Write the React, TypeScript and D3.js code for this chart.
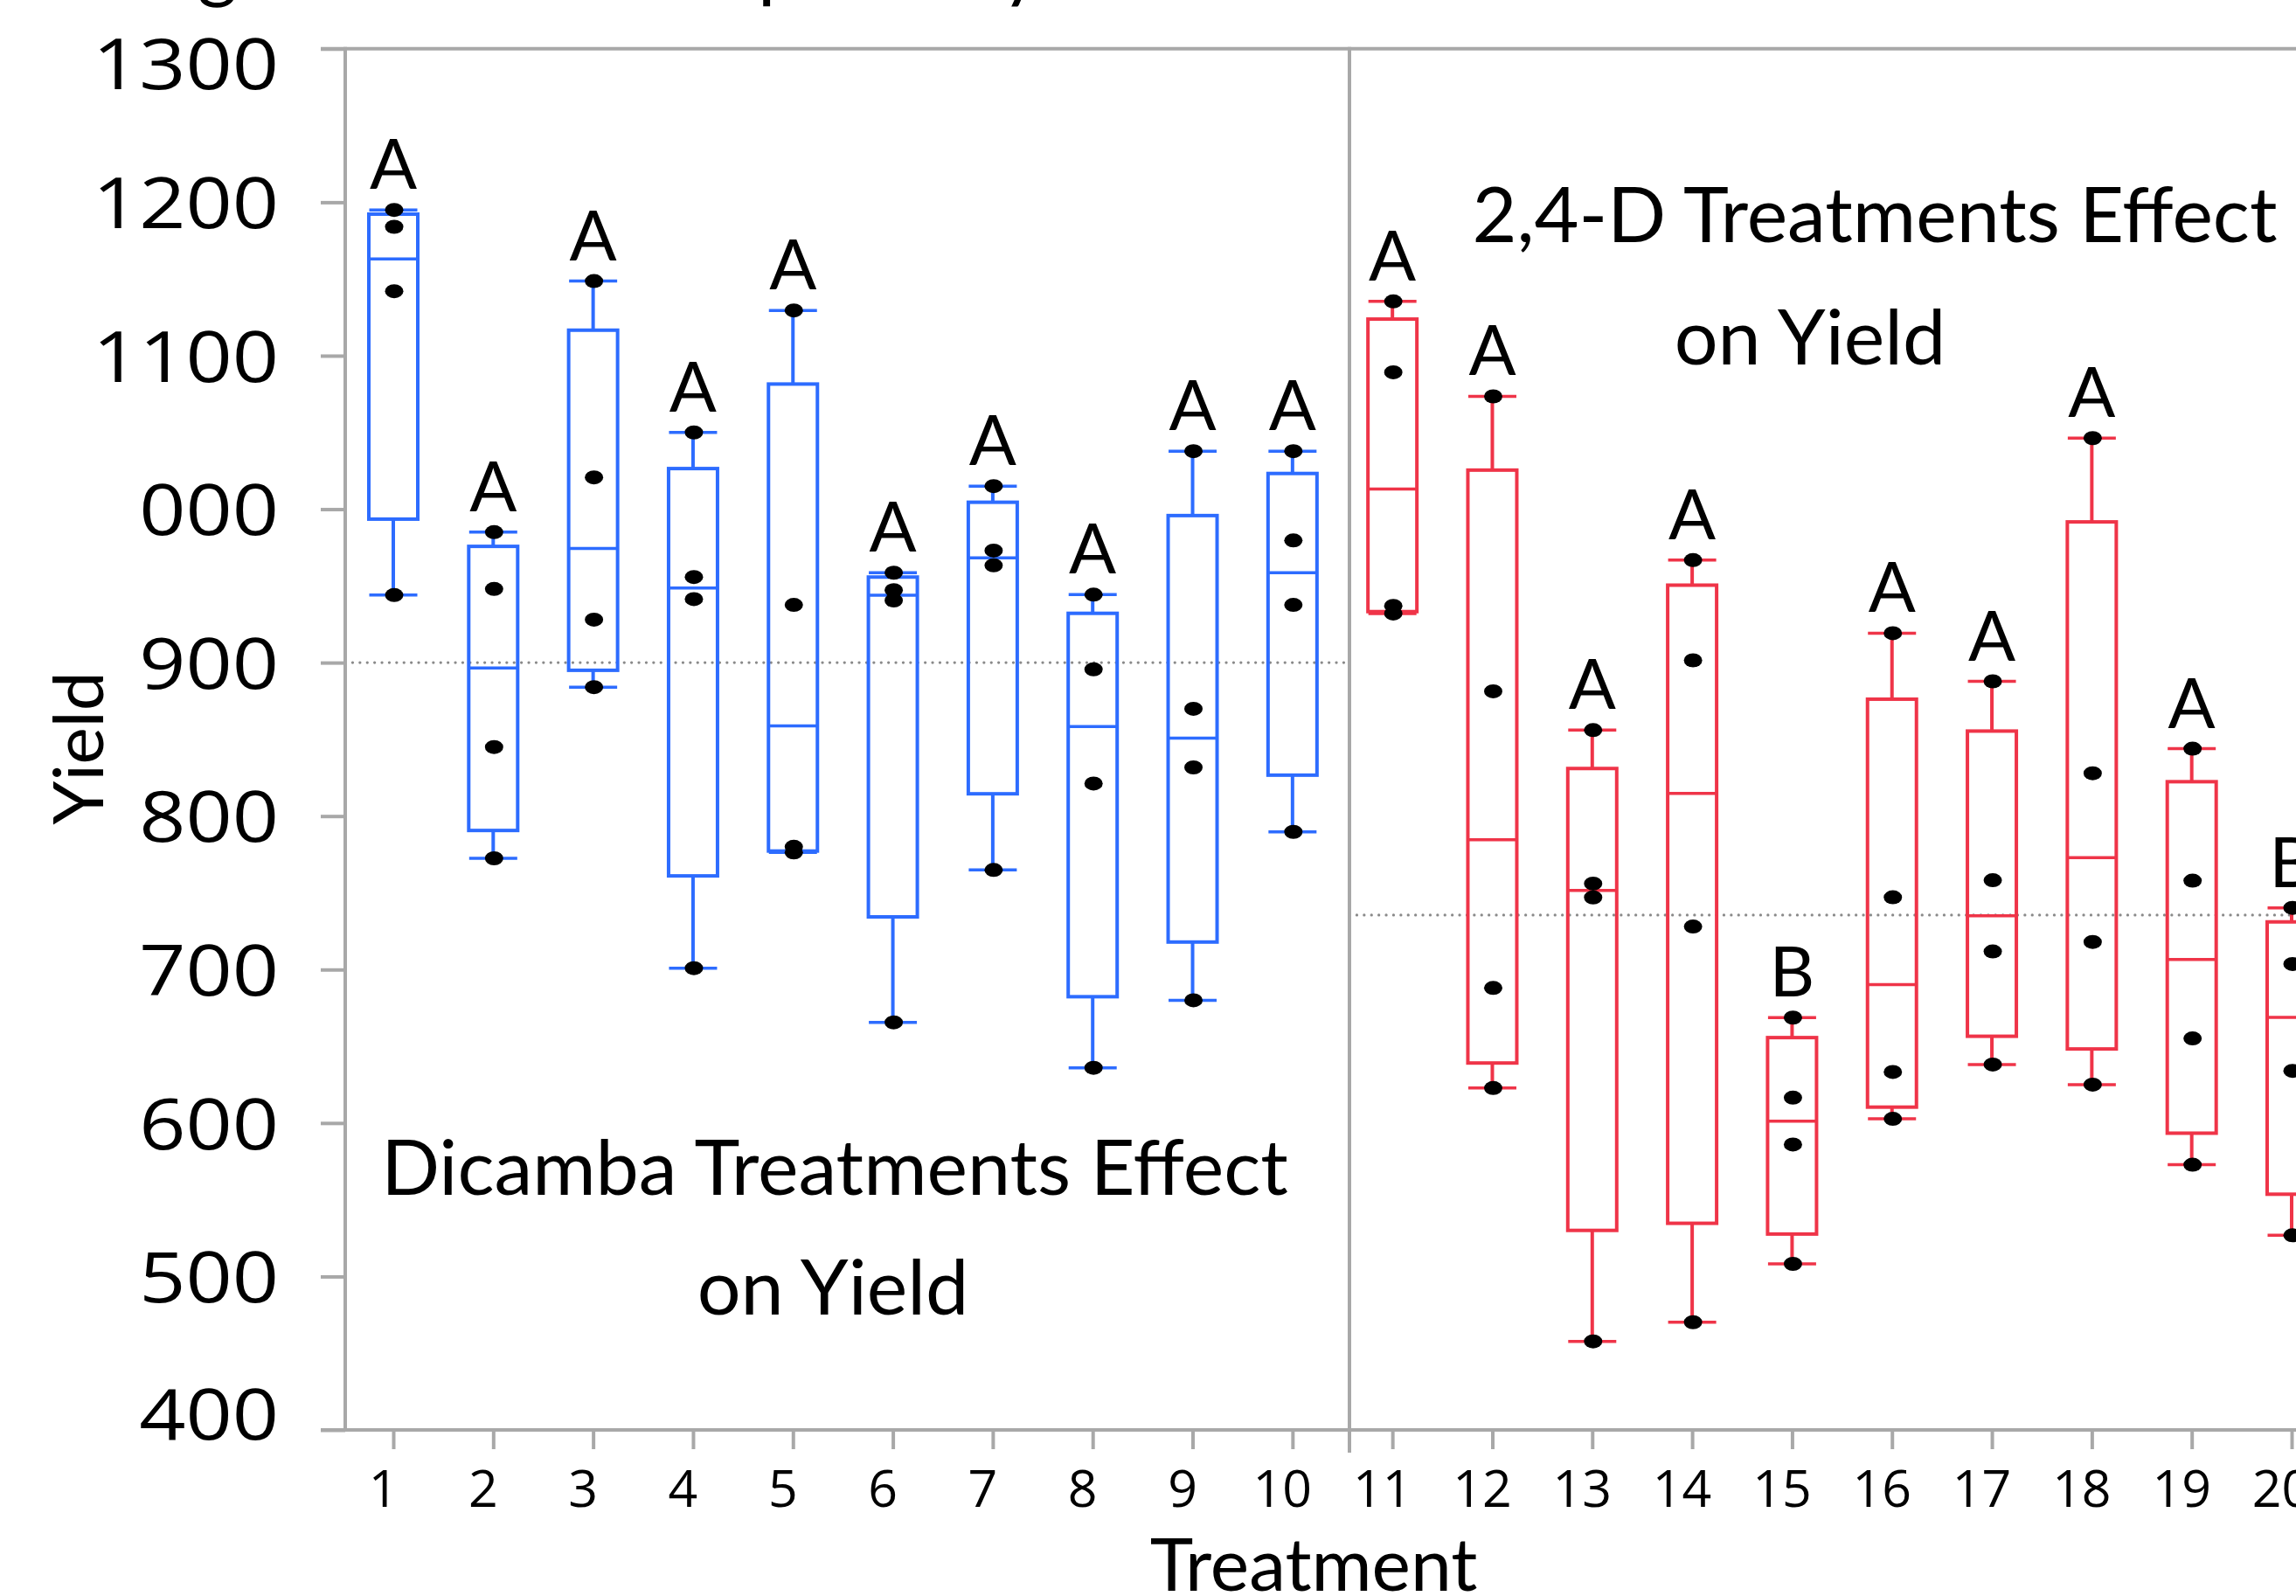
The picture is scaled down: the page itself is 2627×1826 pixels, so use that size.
import React, { useRef, useEffect } from 'react';
import * as d3 from 'd3';

// treatments 1-10 are Dicamba (blue), 11-20 are 2,4-D (red)
const treatments = [1, 2, 3, 4, 5, 6, 7, 8, 9, 10, 11, 12, 13, 14, 15, 16, 17, 18, 19, 20];
const herbicide = ['dicamba', 'dicamba', 'dicamba', 'dicamba', 'dicamba', 'dicamba', 'dicamba', 'dicamba', 'dicamba', 'dicamba',
  '24d', '24d', '24d', '24d', '24d', '24d', '24d', '24d', '24d', '24d'];

// four replicate yields per treatment
const yieldValues = [
  [1195, 1184, 1142, 944],
  [985, 948, 845, 772.5],
  [1148.6, 1020.7, 928, 884],
  [1050, 955.8, 941.4, 700.9],
  [1129.5, 937.6, 780, 776.3],
  [958.6, 947.2, 940.5, 665.6],
  [1015, 973, 963.4, 764.9],
  [944.3, 895.6, 821.2, 636],
  [1037.8, 869.9, 831.7, 680],
  [1037.8, 979.6, 937.6, 789.7],
  [1135.4, 1089.2, 937, 932],
  [1073.5, 881.3, 688, 622.8],
  [856, 756, 747, 457.7],
  [966.8, 901.5, 728, 470.2],
  [668.7, 616.5, 586, 508.2],
  [919.2, 747.1, 633.3, 602.7],
  [887.8, 758.2, 711.8, 638.1],
  [1046.3, 827.9, 718, 625],
  [843.9, 757.9, 655.1, 572.8],
  [740.2, 703.6, 634, 526.8],
];

const letters = ['A', 'A', 'A', 'A', 'A', 'A', 'A', 'A', 'A', 'A',
  'A', 'A', 'A', 'A', 'B', 'A', 'A', 'A', 'A', 'B'];

const yTicks = [400, 500, 600, 700, 800, 900, 1000, 1100, 1200, 1300];
const yTickLabels = ['400', '500', '600', '700', '800', '900', '000', '1100', '1200', '1300'];

// grand mean reference lines for each panel
const dicambaMean = 900;
const d24Mean = 735.5;

const colors = { dicamba: '#2d6cff', '24d': '#ef3448' };

// quantile in the (n+1)p style
const quant = (s, p) => {
  const h = (s.length + 1) * p;
  const lo = Math.floor(h);
  if (lo < 1) return s[0];
  if (lo >= s.length) return s[s.length - 1];
  return s[lo - 1] + (h - lo) * (s[lo] - s[lo - 1]);
};

const App = () => {
  const svgRef = useRef(null);
  const width = 2627;
  const height = 1826;

  useEffect(() => {
    document.body.style.margin = '0';
    const svg = d3.select(svgRef.current);
    svg.selectAll('*').remove();

    const axisLeftX = 395;
    const gray = '#a8a8a8';

    const yScale = d3.scaleLinear().domain([400, 1300]).range([1636, 55.8]);
    const xScale = d3.scaleLinear().domain([1, 20]).range([450, 2622]);

    // clipped title line at very top (only descenders visible)
    const frag = svg.append('g').attr('font-family', 'Lato').attr('font-size', 88).attr('fill', '#000');
    frag.append('text').attr('x', 226).attr('y', -8).text('g');
    frag.append('text').attr('x', 867).attr('y', -8).text('p');
    frag.append('text').attr('x', 1146).attr('y', -8).text('y');

    // reference lines
    svg.append('line')
      .attr('x1', axisLeftX).attr('x2', xScale(10.57))
      .attr('y1', yScale(dicambaMean)).attr('y2', yScale(dicambaMean))
      .attr('stroke', '#8a8a8a').attr('stroke-width', 3.2)
      .attr('stroke-dasharray', '0.1 8.3').attr('stroke-linecap', 'round');
    svg.append('line')
      .attr('x1', xScale(10.57)).attr('x2', width)
      .attr('y1', yScale(d24Mean)).attr('y2', yScale(d24Mean))
      .attr('stroke', '#8a8a8a').attr('stroke-width', 3.2)
      .attr('stroke-dasharray', '0.1 8.3').attr('stroke-linecap', 'round');

    // Y axis
    const yAxis = svg.append('g')
      .attr('transform', `translate(${axisLeftX},0)`)
      .call(d3.axisLeft(yScale).tickValues(yTicks).tickSize(28)
        .tickFormat((d) => yTickLabels[yTicks.indexOf(d)]));
    yAxis.select('.domain').remove();
    yAxis.selectAll('.tick line').attr('stroke', gray).attr('stroke-width', 4);
    yAxis.selectAll('.tick text')
      .attr('font-family', 'Open Sans')
      .attr('font-size', 81)
      .attr('fill', '#000')
      .attr('x', -76 / 1.15)
      .attr('y', (d) => (d === 1300 ? 17 : d === 400 ? -19 : 0))
      .attr('dy', '0.36em')
      .attr('transform', 'scale(1.15,1)');

    // X axis
    const xAxis = svg.append('g')
      .attr('transform', `translate(0,${yScale(400)})`)
      .call(d3.axisBottom(xScale).tickValues(treatments).tickSize(22).tickFormat((d) => String(d)));
    xAxis.select('.domain').remove();
    xAxis.selectAll('.tick line').attr('stroke', gray).attr('stroke-width', 4);
    xAxis.selectAll('.tick text')
      .attr('font-family', 'Open Sans')
      .attr('font-size', 59)
      .attr('fill', '#000')
      .attr('x', -12)
      .attr('y', 88)
      .attr('dy', 0);

    // frame
    const frame = svg.append('g').attr('stroke', gray).attr('stroke-width', 4);
    frame.append('line').attr('x1', axisLeftX - 28).attr('x2', width).attr('y1', yScale(1300)).attr('y2', yScale(1300));
    frame.append('line').attr('x1', axisLeftX - 28).attr('x2', width).attr('y1', yScale(400)).attr('y2', yScale(400));
    frame.append('line').attr('x1', axisLeftX).attr('x2', axisLeftX).attr('y1', yScale(1300) - 2).attr('y2', yScale(400) + 2);
    frame.append('line').attr('x1', xScale(10.57)).attr('x2', xScale(10.57)).attr('y1', yScale(1300) - 2).attr('y2', yScale(400) + 26);

    // boxes
    const boxW = 56;
    const capW = 55;
    treatments.forEach((t, i) => {
      const vals = yieldValues[i].slice().sort((a, b) => a - b);
      const q1 = quant(vals, 0.25);
      const med = quant(vals, 0.5);
      const q3 = quant(vals, 0.75);
      const iqr = q3 - q1;
      const lo = d3.min(vals.filter((v) => v >= q1 - 1.5 * iqr));
      const hi = d3.max(vals.filter((v) => v <= q3 + 1.5 * iqr));
      const cx = xScale(t);
      const col = colors[herbicide[i]];
      const g = svg.append('g').attr('stroke', col).attr('fill', 'none');

      g.append('line').attr('x1', cx).attr('x2', cx).attr('y1', yScale(hi)).attr('y2', yScale(q3)).attr('stroke-width', 4);
      g.append('line').attr('x1', cx).attr('x2', cx).attr('y1', yScale(q1)).attr('y2', yScale(lo)).attr('stroke-width', 4);
      g.append('line').attr('x1', cx - capW / 2).attr('x2', cx + capW / 2).attr('y1', yScale(hi)).attr('y2', yScale(hi)).attr('stroke-width', 3.5);
      g.append('line').attr('x1', cx - capW / 2).attr('x2', cx + capW / 2).attr('y1', yScale(lo)).attr('y2', yScale(lo)).attr('stroke-width', 3.5);
      g.append('rect')
        .attr('x', cx - boxW / 2).attr('y', yScale(q3))
        .attr('width', boxW).attr('height', yScale(q1) - yScale(q3))
        .attr('stroke-width', 4);
      g.append('line').attr('x1', cx - boxW / 2).attr('x2', cx + boxW / 2).attr('y1', yScale(med)).attr('y2', yScale(med)).attr('stroke-width', 3.5);

      svg.append('g').selectAll('ellipse')
        .data(vals)
        .enter()
        .append('ellipse')
        .attr('cx', cx + 1)
        .attr('cy', (d) => yScale(d))
        .attr('rx', 10.5)
        .attr('ry', 8)
        .attr('fill', '#000');

      svg.append('text')
        .attr('x', cx)
        .attr('y', yScale(d3.max(vals)) - 24)
        .attr('text-anchor', 'middle')
        .attr('font-family', 'Lato')
        .attr('font-size', 80)
        .attr('fill', '#000')
        .text(letters[i]);
    });

    // panel annotations
    const notes = svg.append('g').attr('font-family', 'Lato').attr('font-size', 88).attr('fill', '#000').attr('text-anchor', 'middle');
    notes.append('text').attr('x', 955).attr('y', 1367).text('Dicamba Treatments Effect');
    notes.append('text').attr('x', 953).attr('y', 1504).text('on Yield');
    notes.append('text').attr('x', 2145).attr('y', 277).text('2,4-D Treatments Effect');
    notes.append('text').attr('x', 2071).attr('y', 417).text('on Yield');

    // axis titles
    svg.append('text')
      .attr('x', 1503)
      .attr('y', 1820)
      .attr('text-anchor', 'middle')
      .attr('font-family', 'Lato')
      .attr('font-size', 84)
      .attr('fill', '#000')
      .text('Treatment');

    svg.append('text')
      .attr('transform', 'translate(118,856) rotate(-90)')
      .attr('text-anchor', 'middle')
      .attr('font-family', 'Lato')
      .attr('font-size', 80)
      .attr('fill', '#000')
      .text('Yield');
  }, []);

  return <svg ref={svgRef} width={width} height={height} style={{ display: 'block', background: '#fff' }} />;
};

export default App;
